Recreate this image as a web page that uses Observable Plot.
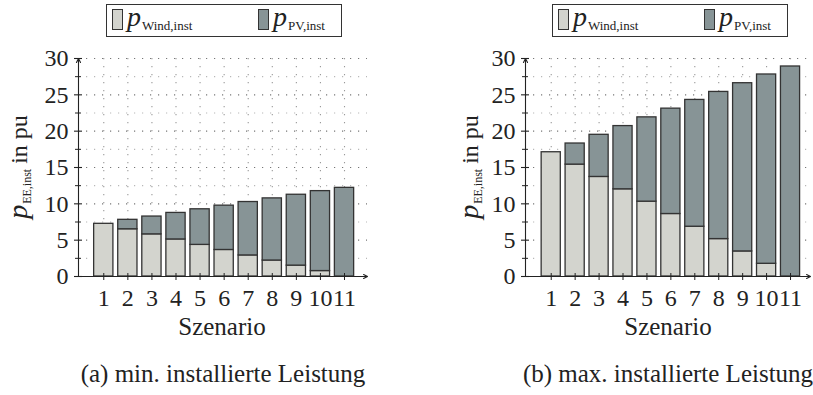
<!DOCTYPE html>
<html>
<head>
<meta charset="utf-8">
<script src="https://cdn.jsdelivr.net/npm/d3@7"></script>
<script src="https://cdn.jsdelivr.net/npm/@observablehq/plot@0.6"></script>
<style>
  html, body { margin: 0; padding: 0; background: #fff; overflow: hidden; }
  body { width: 813px; height: 395px; position: relative; color: #222; }
  .legend { position: absolute; top: 4px; height: 31px; width: 234px; border: 1.2px solid #333; background: #fff; }
  .sw { position: absolute; top: 4px; width: 9px; height: 19px; border: 1.2px solid #333; }
  .lt { position: absolute; top: -4px; font-size: 28px; white-space: nowrap; }
  .lt i { font-style: italic; }
  .lt sub { font-size: 13px; vertical-align: baseline; position: relative; top: 4px; margin-left: 1px; }
  .ylab { position: absolute; font-size: 24px; white-space: nowrap; transform: translate(-50%, -50%) rotate(-90deg); }
  .ylab i { font-size: 28px; }
  .ylab sub { font-size: 12px; vertical-align: baseline; position: relative; top: 4px; margin-left: 1px; margin-right: 5px; }
  .cap { position: absolute; font-size: 25px; white-space: nowrap; transform: translate(-50%, -50%); }
  .panel { position: absolute; top: 0; }
</style>
</head>
<body>
<div id="root"></div>
<script>
const scenarios = [1, 2, 3, 4, 5, 6, 7, 8, 9, 10, 11];
const windMin = [7.25, 6.5, 5.8, 5.1, 4.35, 3.65, 2.9, 2.2, 1.5, 0.75, 0];
const pvMin   = [0, 1.3, 2.45, 3.65, 4.9, 6.1, 7.35, 8.55, 9.75, 11.0, 12.2];
const windMax = [17.1, 15.4, 13.7, 12.0, 10.3, 8.6, 6.85, 5.15, 3.45, 1.75, 0];
const pvMax   = [0, 2.9, 5.8, 8.7, 11.6, 14.5, 17.45, 20.25, 23.15, 26.05, 28.9];
const yTicks = [0, 5, 10, 15, 20, 25, 30];
const yMinorTicks = [2.5, 7.5, 12.5, 17.5, 22.5, 27.5];
const seriesNames = ["Wind", "PV"];
const colors = {Wind: "#d3d4ce", PV: "#879496"};
const xLabel = "Szenario";
const captions = ["(a) min. installierte Leistung", "(b) max. installierte Leistung"];
const FONT = "'Liberation Serif'";

function panel(wind, pv, cfg) {
  const rows = [];
  scenarios.forEach((s, i) => {
    rows.push({s, type: "Wind", y1: 0, y2: wind[i]});
    rows.push({s, type: "PV", y1: wind[i], y2: wind[i] + pv[i]});
  });
  const bars = rows.filter(r => r.y2 - r.y1 > 0.001);
  const [x0, x1] = cfg.xDomain;
  const half = 0.4;
  return Plot.plot({
    width: cfg.width,
    height: 320,
    marginLeft: cfg.marginLeft,
    marginRight: cfg.marginRight,
    marginTop: 58,
    marginBottom: 44,
    x: {domain: cfg.xDomain, axis: null},
    y: {domain: [0, 30], axis: null},
    style: {fontFamily: FONT, fontSize: "24px", background: "transparent", overflow: "visible", color: "#222"},
    marks: [
      Plot.gridY(yMinorTicks, {stroke: "#b8b8b8", strokeOpacity: 1, strokeWidth: 1.1, strokeDasharray: "1.2,6.8"}),
      Plot.gridY(yTicks.filter(t => t > 0), {stroke: "#777", strokeOpacity: 1, strokeWidth: 1.1, strokeDasharray: "1.2,6.8"}),
      Plot.gridX(scenarios, {stroke: "#999", strokeOpacity: 1, strokeWidth: 1.1, strokeDasharray: "1.2,6.8"}),
      Plot.rect(bars, {
        x1: d => d.s - half, x2: d => d.s + half, y1: "y1", y2: "y2",
        fill: d => colors[d.type], stroke: "#333", strokeWidth: 1.3
      }),
      Plot.ruleY(yTicks, {y: d => d, x1: x0, x2: x0, insetLeft: -4, insetRight: -4, stroke: "#222", strokeWidth: 1.1}),
      Plot.ruleY(yMinorTicks, {y: d => d, x1: x0, x2: x0, insetLeft: -3, insetRight: -3, stroke: "#222", strokeWidth: 1}),
      Plot.ruleX(scenarios, {x: d => d, y1: 0, y2: 0, insetTop: -3, insetBottom: -4, stroke: "#222", strokeWidth: 1}),
      Plot.arrow([0], {x1: x0, y1: 0, x2: x1, y2: 0, headLength: 6, headAngle: 55, stroke: "#222", strokeWidth: 1.1}),
      Plot.arrow([0], {x1: x0, y1: 0, x2: x0, y2: 30, headLength: 6, headAngle: 55, stroke: "#222", strokeWidth: 1.1}),
      Plot.axisY(yTicks, {tickSize: 0, tickPadding: 10, label: null, fontSize: 24}),
      Plot.axisX(scenarios, {tickSize: 0, tickPadding: 12, label: null, fontSize: 24})
    ]
  });
}

const root = document.getElementById("root");
const panels = [
  {left: 0, width: 406, marginLeft: 78, marginRight: 39, xDomain: [-0.05, 11.955], wind: windMin, pv: pvMin, cx: 222, yl: 18, lg: 106},
  {left: 406, width: 407, marginLeft: 119, marginRight: 3, xDomain: [-0.075, 11.835], wind: windMax, pv: pvMax, cx: 668, yl: 469, lg: 552}
];
panels.forEach((p, k) => {
  const svg = panel(p.wind, p.pv, p);
  const wrap = document.createElement("div");
  wrap.className = "panel";
  wrap.style.left = p.left + "px";
  wrap.appendChild(svg);
  root.appendChild(wrap);

  const lg = document.createElement("div");
  lg.className = "legend";
  lg.style.left = p.lg + "px";
  lg.innerHTML =
    `<div class="sw" style="left:5px;background:${colors.Wind}"></div>` +
    `<div class="lt" style="left:20px"><i>p</i><sub>${seriesNames[0]},inst</sub></div>` +
    `<div class="sw" style="left:151px;background:${colors.PV}"></div>` +
    `<div class="lt" style="left:166px"><i>p</i><sub>${seriesNames[1]},inst</sub></div>`;
  root.appendChild(lg);

  const yl = document.createElement("div");
  yl.className = "ylab";
  yl.style.left = p.yl + "px";
  yl.style.top = "167px";
  yl.innerHTML = `<i>p</i><sub>EE,inst</sub>in pu`;
  root.appendChild(yl);

  const xl = document.createElement("div");
  xl.className = "cap";
  xl.style.left = p.cx + "px";
  xl.style.top = "327px";
  xl.textContent = xLabel;
  root.appendChild(xl);

  const cap = document.createElement("div");
  cap.className = "cap";
  cap.style.left = (k === 0 ? 223 : 668) + "px";
  cap.style.top = "374px";
  cap.textContent = captions[k];
  root.appendChild(cap);
});
document.querySelectorAll("body, body *").forEach(el => {
  if (el.style) el.style.setProperty("font-family", "'Liberation Serif'", "important");
  if (el instanceof SVGElement) el.setAttribute("font-family", "Liberation Serif");
});
</script>
</body>
</html>
